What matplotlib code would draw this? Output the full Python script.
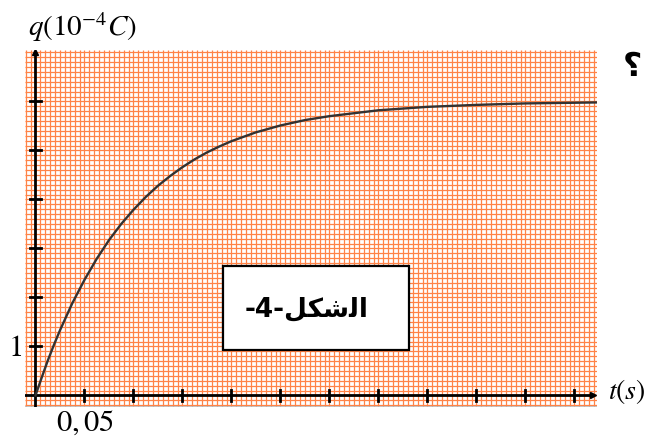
import numpy as np
import matplotlib.pyplot as plt
from matplotlib.patches import Rectangle

# charge q (10^-4 C) at times t (s)
t_vals = [0, 0.00625, 0.0125, 0.01875, 0.025, 0.0375, 0.05, 0.0625, 0.075, 0.0875,
          0.1, 0.1125, 0.125, 0.1375, 0.15, 0.1625, 0.175, 0.1875, 0.2,
          0.225, 0.25, 0.275, 0.3, 0.35, 0.4, 0.45, 0.5, 0.573]
q_vals = [0, 0.36, 0.71, 1.03, 1.33, 1.88, 2.36, 2.79, 3.17, 3.50,
          3.79, 4.05, 4.28, 4.48, 4.66, 4.82, 4.96, 5.08, 5.19,
          5.37, 5.51, 5.62, 5.70, 5.82, 5.89, 5.93, 5.96, 5.98]
x_ticks = [0.05, 0.10, 0.15, 0.20, 0.25, 0.30, 0.35, 0.40, 0.45, 0.50, 0.55]
y_ticks = [1, 2, 3, 4, 5, 6]

plt.rcParams['mathtext.fontset'] = 'stix'
plt.rcParams['font.family'] = ['Liberation Serif', 'DejaVu Sans']

W, H = 656, 441
fig = plt.figure(figsize=(W / 100, H / 100), dpi=100)
ax = fig.add_axes([25 / W, 34 / H, 572 / W, 357 / H])
xmin, xmax = -0.0107, 0.573
ymin, ymax = -0.235, 7.05
ax.set_xlim(xmin, xmax)
ax.set_ylim(ymin, ymax)
ax.axis('off')

# millimetre-paper grid
grid_c = '#ff8347'
ax.vlines(np.arange(-0.01, xmax, 0.005), ymin, ymax, color=grid_c, lw=0.9, zorder=0)
ax.hlines(np.arange(-0.2, ymax, 0.1), xmin, xmax, color=grid_c, lw=0.9, zorder=0)
ax.axhline(ymin, color='#bbbbbb', lw=1.2, zorder=1)

# axes with arrows
ax.plot([xmin, 0.568], [0, 0], color='black', lw=2, zorder=2)
ax.plot([0, 0], [ymin, 6.98], color='black', lw=2, zorder=2)
ax.plot(0.569, 0, marker='>', ms=5, color='black', zorder=2)
ax.plot(0, 7.0, marker='^', ms=5, color='black', zorder=2)
for xt in x_ticks:
    ax.plot([xt, xt], [-0.11, 0.11], color='black', lw=2, zorder=2)
for yt in y_ticks:
    ax.plot([-0.0055, 0.0055], [yt, yt], color='black', lw=2, zorder=2)

# charging curve
ax.plot(t_vals, q_vals, color='#333333', lw=1.7, zorder=3)

# label box
ax.add_patch(Rectangle((223 / W, 1 - 350 / H), (409 - 223) / W, (350 - 266) / H,
                       transform=fig.transFigure, fc='white', ec='black', lw=1.6,
                       zorder=4, clip_on=False))
fig.text(307 / W, 1 - 309 / H, '-4-\ufede\ufedc\ufeb7\ufedf\ufe8d',
         family=['DejaVu Sans'], weight='bold', fontsize=19,
         ha='center', va='center', zorder=5)

# axis labels and tick labels
fig.text(28 / W, 1 - 27 / H, r'$q(10^{-4}C)$', fontsize=21, ha='left', va='center')
fig.text(608 / W, 1 - 391 / H, r'$t(s)$', fontsize=20, ha='left', va='center')
fig.text(15 / W, 1 - 348 / H, '$1$', fontsize=22, ha='center', va='center')
fig.text(85 / W, 1 - 423 / H, '$0,05$', fontsize=22, ha='center', va='center')

# question mark left of the cut-off text
fig.text(632 / W, 1 - 66 / H, '\u061f', family=['DejaVu Sans'], weight='bold',
         fontsize=24, ha='center', va='center')

fig.savefig('out.png', dpi=100)
